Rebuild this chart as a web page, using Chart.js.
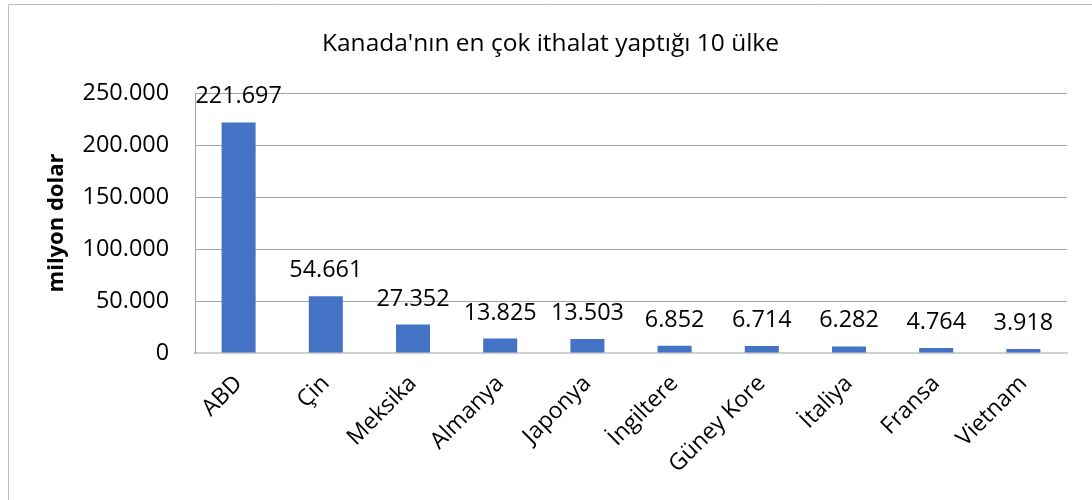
<!DOCTYPE html>
<html>
<head>
<meta charset="utf-8">
<script src="https://cdn.jsdelivr.net/npm/chart.js@4"></script>
<style>
  html, body { margin: 0; padding: 0; background: #fff; }
</style>
</head>
<body>
<canvas id="chart" width="1092" height="500"></canvas>
<script>
const countries = ['ABD', 'Çin', 'Meksika', 'Almanya', 'Japonya', 'İngiltere', 'Güney Kore', 'İtaliya', 'Fransa', 'Vietnam'];
const imports = [221697, 54661, 27352, 13825, 13503, 6852, 6714, 6282, 4764, 3918];
const yTicks = [0, 50000, 100000, 150000, 200000, 250000];

const FONT = "'Open Sans', sans-serif";

function dotted(v) {
  return String(v).replace(/\B(?=(\d{3})+(?!\d))/g, '.');
}

// values above the bars
const barLabels = {
  id: 'barLabels',
  afterDatasetsDraw(chart) {
    const ctx = chart.ctx;
    ctx.save();
    ctx.font = '23.4px ' + FONT;
    ctx.fillStyle = '#000';
    ctx.textAlign = 'center';
    ctx.textBaseline = 'alphabetic';
    chart.getDatasetMeta(0).data.forEach((bar, i) => {
      ctx.fillText(dotted(imports[i]), bar.x, bar.y - 19);
    });
    ctx.restore();
  }
};

// outer frame of the chart
const frame = {
  id: 'frame',
  beforeDraw(chart) {
    const ctx = chart.ctx;
    ctx.save();
    ctx.strokeStyle = '#bfbfbf';
    ctx.lineWidth = 1;
    ctx.beginPath();
    ctx.moveTo(8.5, 500);
    ctx.lineTo(8.5, 4.5);
    ctx.lineTo(1092, 4.5);
    ctx.stroke();
    ctx.restore();
  }
};

new Chart(document.getElementById('chart'), {
  type: 'bar',
  data: {
    labels: countries,
    datasets: [{
      label: 'milyon dolar',
      data: imports,
      backgroundColor: '#4472C4',
      barPercentage: 0.39,
      categoryPercentage: 1
    }]
  },
  options: {
    responsive: false,
    animation: false,
    layout: { padding: { left: 17, right: 8, top: 0, bottom: 0 } },
    plugins: {
      legend: { display: false },
      tooltip: { enabled: false },
      title: {
        display: true,
        text: "Kanada'nın en çok ithalat yaptığı 10 ülke",
        color: '#000',
        font: { family: FONT, size: 24.5, weight: 'normal' },
        padding: { top: 29.3, bottom: 34.3 }
      }
    },
    scales: {
      x: {
        grid: { display: false, drawTicks: false },
        border: { color: '#d0d0d0', width: 2 },
        ticks: {
          color: '#000',
          font: { family: FONT, size: 23 },
          maxRotation: 45,
          minRotation: 45,
          padding: 17
        },
        afterFit(scale) {
          scale.height = 147;
          scale.paddingRight = 25;
        }
      },
      y: {
        min: 0,
        max: 250000,
        afterBuildTicks(scale) { scale.ticks = yTicks.map(v => ({ value: v })); },
        grid: { color: '#a6a6a6', drawTicks: false },
        border: { color: '#a6a6a6' },
        ticks: {
          color: '#000',
          font: { family: FONT, size: 23.4 },
          padding: 26,
          callback: v => dotted(v)
        },
        title: {
          display: true,
          text: 'milyon dolar',
          color: '#000',
          font: { family: FONT, size: 22, weight: 'bold' },
          padding: { top: 27, bottom: 0 }
        },
        afterFit(scale) { scale.width = 178; }
      }
    }
  },
  plugins: [barLabels, frame]
});
</script>
</body>
</html>
